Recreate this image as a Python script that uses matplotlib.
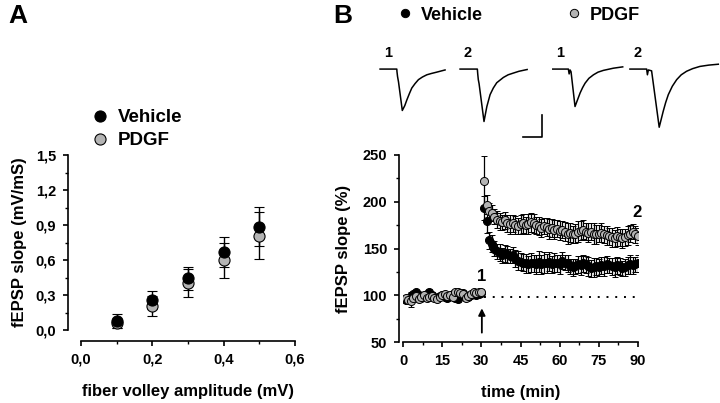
import numpy as np
import matplotlib.pyplot as plt
from matplotlib.lines import Line2D
from matplotlib.ticker import MultipleLocator, FuncFormatter

plt.rcParams['font.family'] = ['Liberation Sans', 'DejaVu Sans']
plt.rcParams['font.weight'] = 'bold'
plt.rcParams['axes.labelweight'] = 'bold'

# ---- panel A: input/output ----
fv_amp = [0.1, 0.2, 0.3, 0.4, 0.5]
io_veh = [0.077, 0.257, 0.443, 0.666, 0.886]
io_veh_err = [0.06, 0.075, 0.10, 0.13, 0.17]
io_pdgf = [0.057, 0.206, 0.400, 0.600, 0.810]
io_pdgf_err = [0.04, 0.085, 0.12, 0.15, 0.20]

# ---- panel B: LTP time course (1 point per min) ----
time_min = np.arange(1, 91)
ltp_veh = [95, 96, 99, 101, 103, 100, 97, 98, 101, 104, 100, 98, 97, 99, 100,
           98, 97, 99, 101, 97, 96, 100, 102, 99, 98, 100, 101, 100, 101, 102,
           193, 179, 159, 155, 150, 147, 146, 143, 145, 144, 142, 143, 139, 137, 136,
           135, 134, 133, 135, 134, 133, 136, 133, 135, 134, 136, 133, 135, 134, 133,
           137, 135, 134, 131, 130, 131, 133, 132, 134, 133, 131, 129, 130, 131, 130,
           132, 131, 133, 132, 131, 130, 132, 131, 129, 130, 132, 133, 132, 133, 134]
ltp_veh_err = [3, 3, 4, 3, 3, 3, 3, 3, 3, 3, 3, 3, 3, 3, 3,
               3, 3, 3, 3, 3, 3, 3, 3, 3, 3, 3, 3, 3, 3, 3,
               13, 12, 9, 9, 8, 8, 9, 8, 9, 9, 8, 9, 9, 10, 9,
               9, 10, 9, 10, 9, 10, 11, 10, 11, 10, 10, 9, 10, 9, 10,
               9, 8, 9, 8, 9, 8, 9, 10, 9, 9, 10, 9, 10, 9, 9,
               9, 10, 9, 8, 9, 10, 9, 9, 8, 9, 9, 10, 9, 8, 9]
ltp_pdgf = [97, 95, 94, 97, 99, 96, 98, 100, 97, 98, 99, 97, 96, 98, 100,
            101, 99, 100, 98, 103, 104, 102, 101, 97, 99, 101, 103, 102, 104, 104,
            222, 197, 190, 188, 184, 181, 179, 178, 180, 177, 176, 177, 175, 174, 176,
            177, 175, 176, 178, 177, 175, 174, 172, 174, 173, 171, 172, 170, 171, 169,
            170, 168, 166, 167, 165, 166, 168, 169, 170, 168, 167, 168, 166, 165, 166,
            167, 165, 164, 163, 162, 161, 163, 162, 161, 162, 164, 166, 168, 165, 163]
ltp_pdgf_err = [3, 4, 7, 3, 3, 3, 3, 3, 3, 3, 3, 3, 3, 3, 3,
                3, 3, 3, 3, 3, 3, 3, 3, 3, 3, 3, 3, 3, 3, 3,
                27, 10, 9, 9, 8, 9, 9, 8, 9, 9, 10, 9, 10, 9, 10,
                10, 9, 11, 10, 10, 9, 10, 10, 9, 10, 11, 10, 10, 9, 10,
                9, 10, 11, 10, 9, 10, 11, 10, 10, 9, 10, 9, 11, 10, 9,
                10, 9, 10, 9, 10, 9, 10, 9, 10, 9, 10, 9, 8, 9, 9]

# ---- example fEPSP traces (ms, mV) ----
veh1_t = [0, 8.8, 8.9, 9.2, 9.7, 11.7, 13.0, 14.1, 15.4, 16.7, 18.4, 20.2, 22.3, 24.6, 27.0, 29.8, 34.2]
veh1_v = [0, 0, -0.06, -0.17, -0.29, -0.94, -0.83, -0.70, -0.56, -0.43, -0.33, -0.24, -0.18, -0.13, -0.10, -0.07, -0.02]
veh2_t = [0, 9.1, 9.3, 9.6, 10.0, 12.6, 13.3, 14.1, 15.8, 17.5, 19.3, 22.8, 25.3, 28.1, 31.0, 34.2, 35.3]
veh2_v = [0, 0, -0.11, -0.24, -0.33, -1.19, -1.03, -0.85, -0.58, -0.43, -0.31, -0.19, -0.13, -0.09, -0.05, -0.02, -0.01]
pdgf1_t = [0, 8.2, 8.6, 9.1, 9.6, 11.7, 13.0, 14.4, 15.7, 17.0, 19.0, 21.4, 23.8, 26.6, 31.9, 36.8]
pdgf1_v = [0, 0, -0.11, -0.02, -0.06, -0.85, -0.70, -0.54, -0.42, -0.32, -0.21, -0.13, -0.07, -0.03, 0.02, 0.05]
pdgf2_t = [0, 8.8, 9.2, 9.7, 11.4, 15.4, 16.4, 17.5, 18.8, 20.2, 22.3, 24.6, 27.0, 29.8, 33.0, 36.8, 41.5, 46.5]
pdgf2_v = [0, 0, -0.13, -0.02, -0.04, -1.32, -1.15, -0.96, -0.76, -0.58, -0.39, -0.24, -0.13, -0.05, 0.01, 0.06, 0.09, 0.11]
trace_start = [5.3, 47.4, 96.2, 136.8]
trace_names = ['1', '2', '1', '2']

veh_kw = dict(marker='o', mfc='black', mec='black', color='black')
pdgf_kw = dict(marker='o', mfc='#b4b4b4', mec='black', color='black')

comma = FuncFormatter(lambda v, p: ('%.1f' % v).replace('.', ','))

fig = plt.figure(figsize=(7.2, 4.03), dpi=100)

# panel A
axA = fig.add_axes([81 / 720, 1 - 330 / 403, 214 / 720, 175 / 403])
axA.errorbar(fv_amp, io_pdgf, yerr=io_pdgf_err, ls='none', ms=8, mew=0.8,
             capsize=3.6, elinewidth=1, capthick=1, **pdgf_kw)
axA.errorbar(fv_amp, io_veh, yerr=io_veh_err, ls='none', ms=8, mew=0.8,
             capsize=3.6, elinewidth=1, capthick=1, **veh_kw)
axA.set_xlim(0, 0.6)
axA.set_ylim(0, 1.5)
axA.xaxis.set_major_locator(MultipleLocator(0.2))
axA.xaxis.set_minor_locator(MultipleLocator(0.1))
axA.yaxis.set_major_locator(MultipleLocator(0.3))
axA.yaxis.set_minor_locator(MultipleLocator(0.15))
axA.xaxis.set_major_formatter(comma)
axA.yaxis.set_major_formatter(comma)
axA.spines['left'].set_position(('outward', 9.4))
axA.spines['bottom'].set_position(('outward', 7.9))
axA.set_xlabel('fiber volley amplitude (mV)', fontsize=12, labelpad=12)
axA.set_ylabel('fEPSP slope (mV/mS)', fontsize=12, labelpad=6)
hA = [Line2D([], [], ls='none', ms=8, mew=0.8, **veh_kw),
      Line2D([], [], ls='none', ms=8, mew=0.8, **pdgf_kw)]
fig.legend(hA, ['Vehicle', 'PDGF'], loc='upper left',
           bbox_to_anchor=(81 / 720, 1 - 100 / 403), frameon=False,
           fontsize=13.5, handlelength=1, handletextpad=0.45,
           labelspacing=0.3, borderpad=0)

# panel B
axB = fig.add_axes([403 / 720, 1 - 342 / 403, 235 / 720, 187 / 403])
axB.plot([31, 90], [98, 98], color='black', lw=1.4, ls=(0, (1, 3.5)))
axB.errorbar(time_min, ltp_veh, yerr=ltp_veh_err, ls='none', ms=5.8, mew=0.7,
             capsize=2.2, elinewidth=0.9, capthick=0.9, **veh_kw)
axB.errorbar(time_min, ltp_pdgf, yerr=ltp_pdgf_err, ls='none', ms=5.8, mew=0.7,
             capsize=2.2, elinewidth=0.9, capthick=0.9, **pdgf_kw)
axB.annotate('', xy=(30.2, 86), xytext=(30.2, 60),
             arrowprops=dict(arrowstyle='-|>', color='black', lw=1.3,
                             mutation_scale=10, shrinkA=0, shrinkB=0))
axB.text(30.2, 120, '1', ha='center', va='center', fontsize=12)
axB.text(89.6, 188, '2', ha='center', va='center', fontsize=12)
axB.set_xlim(0, 90)
axB.set_ylim(50, 250)
axB.xaxis.set_major_locator(MultipleLocator(15))
axB.xaxis.set_minor_locator(MultipleLocator(7.5))
axB.yaxis.set_major_locator(MultipleLocator(50))
axB.yaxis.set_minor_locator(MultipleLocator(25))
axB.spines['left'].set_position(('outward', 2.9))
axB.set_xlabel('time (min)', fontsize=12, labelpad=12)
axB.set_ylabel('fEPSP slope (%)', fontsize=12, labelpad=8)
hB = [Line2D([], [], ls='none', ms=6, mew=0.7, **veh_kw),
      Line2D([], [], ls='none', ms=6, mew=0.7, **pdgf_kw)]
fig.legend(hB, ['Vehicle', 'PDGF'], loc='center left',
           bbox_to_anchor=(387 / 720, 1 - 15 / 403), frameon=False,
           fontsize=13, ncol=2, handlelength=1, handletextpad=0.4,
           columnspacing=4.5, borderpad=0)

for ax in (axA, axB):
    for s in ('top', 'right'):
        ax.spines[s].set_visible(False)
    for s in ('left', 'bottom'):
        ax.spines[s].set_linewidth(1.2)
    ax.tick_params(which='major', length=3.6, width=1.2, labelsize=10.5, pad=5)
    ax.tick_params(which='minor', length=2.2, width=1.0)
    for lab in ax.get_xticklabels() + ax.get_yticklabels():
        lab.set_fontweight('bold')

# example traces
axT = fig.add_axes([370 / 720, 1 - 140 / 403, 350 / 720, 100 / 403])
axT.set_xlim(0, 184.2)
axT.set_ylim(-1.61, 0.66)
axT.axis('off')
traces = [(veh1_t, veh1_v), (veh2_t, veh2_v), (pdgf1_t, pdgf1_v), (pdgf2_t, pdgf2_v)]
for (tt, vv), x0, name in zip(traces, trace_start, trace_names):
    axT.plot(np.array(tt) + x0, vv, color='black', lw=1.1)
    axT.text(x0 + 4, 0.37, name, ha='center', va='center', fontsize=10.5)
# scale bar: 10 ms, 0.5 mV
axT.plot([80.5, 90.5, 90.5], [-1.54, -1.54, -1.04], color='black', lw=1.2)

fig.text(8 / 720, 1 - 16 / 403, 'A', fontsize=19, va='center', ha='left')
fig.text(333 / 720, 1 - 16 / 403, 'B', fontsize=19, va='center', ha='left')

fig.savefig('out.png', dpi=100)
